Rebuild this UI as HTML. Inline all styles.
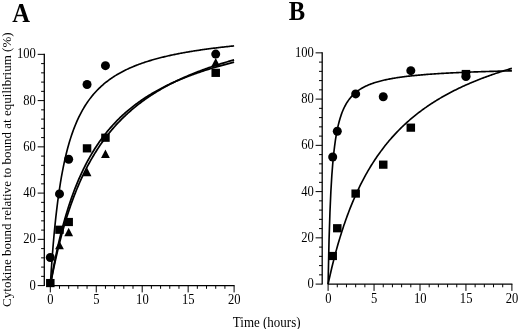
<!DOCTYPE html>
<html><head><meta charset="utf-8"><title>Figure</title>
<style>
html,body{margin:0;padding:0;background:#fff;}
svg{display:block;}
text{font-family:"Liberation Serif","Times New Roman",serif;fill:#000;}
.t{font-size:14px;}
.b{font-size:27px;font-weight:bold;}
.xl{font-size:14.2px;}
.yl{font-size:13px;}
</style></head><body>
<svg width="520" height="329" viewBox="0 0 520 329">
<rect width="520" height="329" fill="#fff"/>
<path d="M44.30 53.85V286.10" stroke="#000" stroke-width="1.3" fill="none"/>
<path d="M37.70 285.60H44.30M41.10 276.35H44.30M41.10 267.10H44.30M41.10 257.85H44.30M41.10 248.60H44.30M37.70 239.35H44.30M41.10 230.10H44.30M41.10 220.85H44.30M41.10 211.60H44.30M41.10 202.35H44.30M37.70 193.10H44.30M41.10 183.85H44.30M41.10 174.60H44.30M41.10 165.35H44.30M41.10 156.10H44.30M37.70 146.85H44.30M41.10 137.60H44.30M41.10 128.35H44.30M41.10 119.10H44.30M41.10 109.85H44.30M37.70 100.60H44.30M41.10 91.35H44.30M41.10 82.10H44.30M41.10 72.85H44.30M41.10 63.60H44.30M37.70 54.35H44.30" stroke="#000" stroke-width="1" fill="none"/>
<text transform="translate(35.90 289.50) scale(0.9 1)" text-anchor="end" class="t">0</text>
<text transform="translate(35.90 243.25) scale(0.9 1)" text-anchor="end" class="t">20</text>
<text transform="translate(35.90 197.00) scale(0.9 1)" text-anchor="end" class="t">40</text>
<text transform="translate(35.90 150.75) scale(0.9 1)" text-anchor="end" class="t">60</text>
<text transform="translate(35.90 104.50) scale(0.9 1)" text-anchor="end" class="t">80</text>
<text transform="translate(35.90 58.25) scale(0.9 1)" text-anchor="end" class="t">100</text>
<path d="M49.80 285.60H234.60" stroke="#000" stroke-width="1.3" fill="none"/>
<path d="M50.30 285.60V292.40M59.49 285.60V288.80M68.68 285.60V288.80M77.87 285.60V288.80M87.06 285.60V288.80M96.25 285.60V292.40M105.44 285.60V288.80M114.63 285.60V288.80M123.82 285.60V288.80M133.01 285.60V288.80M142.20 285.60V292.40M151.39 285.60V288.80M160.58 285.60V288.80M169.77 285.60V288.80M178.96 285.60V288.80M188.15 285.60V292.40M197.34 285.60V288.80M206.53 285.60V288.80M215.72 285.60V288.80M224.91 285.60V288.80M234.10 285.60V292.40" stroke="#000" stroke-width="1" fill="none"/>
<text transform="translate(50.50 304.40) scale(0.9 1)" text-anchor="middle" class="t">0</text>
<text transform="translate(96.45 304.40) scale(0.9 1)" text-anchor="middle" class="t">5</text>
<text transform="translate(142.40 304.40) scale(0.9 1)" text-anchor="middle" class="t">10</text>
<text transform="translate(188.35 304.40) scale(0.9 1)" text-anchor="middle" class="t">15</text>
<text transform="translate(234.30 304.40) scale(0.9 1)" text-anchor="middle" class="t">20</text>
<polyline points="50.30,285.60 51.22,270.98 52.15,257.91 53.07,246.17 53.99,235.55 54.92,225.92 55.84,217.12 56.77,209.07 57.69,201.67 58.61,194.84 59.54,188.52 60.46,182.66 61.38,177.20 62.31,172.12 63.23,167.36 64.15,162.90 65.08,158.71 66.00,154.77 66.93,151.06 67.85,147.55 68.77,144.24 69.70,141.10 70.62,138.13 71.54,135.30 72.47,132.61 73.39,130.05 74.31,127.61 75.24,125.28 76.16,123.06 77.08,120.93 78.01,118.89 78.93,116.94 79.86,115.07 80.78,113.27 81.70,111.55 82.63,109.89 83.55,108.29 84.47,106.76 85.40,105.28 86.32,103.85 87.24,102.47 88.17,101.14 89.09,99.86 90.02,98.62 90.94,97.42 91.86,96.26 92.79,95.13 93.71,94.04 94.63,92.99 95.56,91.97 96.48,90.97 97.40,90.01 98.33,89.07 99.25,88.17 100.18,87.28 101.10,86.42 102.02,85.59 102.95,84.78 103.87,83.99 104.79,83.22 105.72,82.47 106.64,81.74 107.56,81.03 108.49,80.33 109.41,79.66 110.34,79.00 111.26,78.35 112.18,77.72 113.11,77.11 114.03,76.51 114.95,75.92 115.88,75.35 116.80,74.79 117.72,74.24 118.65,73.71 119.57,73.19 120.49,72.67 121.42,72.17 122.34,71.68 123.27,71.20 124.19,70.73 125.11,70.27 126.04,69.82 126.96,69.38 127.88,68.94 128.81,68.52 129.73,68.10 130.65,67.69 131.58,67.29 132.50,66.90 133.43,66.51 134.35,66.13 135.27,65.76 136.20,65.39 137.12,65.04 138.04,64.68 138.97,64.34 139.89,64.00 140.81,63.66 141.74,63.34 142.66,63.01 143.59,62.70 144.51,62.39 145.43,62.08 146.36,61.78 147.28,61.48 148.20,61.19 149.13,60.90 150.05,60.62 150.97,60.34 151.90,60.07 152.82,59.80 153.75,59.53 154.67,59.27 155.59,59.02 156.52,58.76 157.44,58.51 158.36,58.27 159.29,58.03 160.21,57.79 161.13,57.55 162.06,57.32 162.98,57.09 163.91,56.87 164.83,56.65 165.75,56.43 166.68,56.21 167.60,56.00 168.52,55.79 169.45,55.59 170.37,55.38 171.29,55.18 172.22,54.98 173.14,54.79 174.06,54.59 174.99,54.40 175.91,54.22 176.84,54.03 177.76,53.85 178.68,53.67 179.61,53.49 180.53,53.31 181.45,53.14 182.38,52.97 183.30,52.80 184.22,52.63 185.15,52.46 186.07,52.30 187.00,52.14 187.92,51.98 188.84,51.82 189.77,51.66 190.69,51.51 191.61,51.36 192.54,51.21 193.46,51.06 194.38,50.91 195.31,50.77 196.23,50.62 197.16,50.48 198.08,50.34 199.00,50.20 199.93,50.06 200.85,49.93 201.77,49.79 202.70,49.66 203.62,49.53 204.54,49.40 205.47,49.27 206.39,49.15 207.32,49.02 208.24,48.90 209.16,48.77 210.09,48.65 211.01,48.53 211.93,48.41 212.86,48.29 213.78,48.18 214.70,48.06 215.63,47.95 216.55,47.83 217.47,47.72 218.40,47.61 219.32,47.50 220.25,47.39 221.17,47.28 222.09,47.18 223.02,47.07 223.94,46.97 224.86,46.86 225.79,46.76 226.71,46.66 227.63,46.56 228.56,46.46 229.48,46.36 230.41,46.26 231.33,46.17 232.25,46.07 233.18,45.98 234.10,45.88" stroke="#000" stroke-width="1.65" fill="none" stroke-linejoin="round"/>
<polyline points="50.30,285.60 51.22,280.15 52.15,274.91 53.07,269.87 53.99,265.01 54.92,260.32 55.84,255.80 56.77,251.44 57.69,247.23 58.61,243.17 59.54,239.23 60.46,235.43 61.38,231.74 62.31,228.17 63.23,224.72 64.15,221.37 65.08,218.12 66.00,214.96 66.93,211.90 67.85,208.93 68.77,206.04 69.70,203.23 70.62,200.50 71.54,197.85 72.47,195.26 73.39,192.75 74.31,190.30 75.24,187.91 76.16,185.59 77.08,183.32 78.01,181.11 78.93,178.95 79.86,176.85 80.78,174.80 81.70,172.79 82.63,170.83 83.55,168.92 84.47,167.05 85.40,165.23 86.32,163.44 87.24,161.69 88.17,159.99 89.09,158.32 90.02,156.68 90.94,155.08 91.86,153.51 92.79,151.98 93.71,150.48 94.63,149.00 95.56,147.56 96.48,146.15 97.40,144.76 98.33,143.40 99.25,142.07 100.18,140.76 101.10,139.48 102.02,138.22 102.95,136.99 103.87,135.78 104.79,134.59 105.72,133.42 106.64,132.27 107.56,131.14 108.49,130.04 109.41,128.95 110.34,127.88 111.26,126.83 112.18,125.80 113.11,124.78 114.03,123.79 114.95,122.80 115.88,121.84 116.80,120.89 117.72,119.96 118.65,119.04 119.57,118.13 120.49,117.24 121.42,116.37 122.34,115.50 123.27,114.65 124.19,113.82 125.11,112.99 126.04,112.18 126.96,111.39 127.88,110.60 128.81,109.82 129.73,109.06 130.65,108.31 131.58,107.56 132.50,106.83 133.43,106.11 134.35,105.40 135.27,104.70 136.20,104.01 137.12,103.33 138.04,102.66 138.97,101.99 139.89,101.34 140.81,100.70 141.74,100.06 142.66,99.43 143.59,98.81 144.51,98.20 145.43,97.60 146.36,97.00 147.28,96.41 148.20,95.83 149.13,95.26 150.05,94.69 150.97,94.14 151.90,93.58 152.82,93.04 153.75,92.50 154.67,91.97 155.59,91.44 156.52,90.93 157.44,90.41 158.36,89.91 159.29,89.41 160.21,88.91 161.13,88.42 162.06,87.94 162.98,87.46 163.91,86.99 164.83,86.52 165.75,86.06 166.68,85.61 167.60,85.16 168.52,84.71 169.45,84.27 170.37,83.83 171.29,83.40 172.22,82.98 173.14,82.55 174.06,82.14 174.99,81.72 175.91,81.32 176.84,80.91 177.76,80.51 178.68,80.12 179.61,79.73 180.53,79.34 181.45,78.96 182.38,78.58 183.30,78.20 184.22,77.83 185.15,77.46 186.07,77.10 187.00,76.74 187.92,76.38 188.84,76.03 189.77,75.68 190.69,75.33 191.61,74.99 192.54,74.65 193.46,74.32 194.38,73.98 195.31,73.65 196.23,73.33 197.16,73.00 198.08,72.68 199.00,72.37 199.93,72.05 200.85,71.74 201.77,71.43 202.70,71.13 203.62,70.83 204.54,70.53 205.47,70.23 206.39,69.93 207.32,69.64 208.24,69.35 209.16,69.07 210.09,68.78 211.01,68.50 211.93,68.22 212.86,67.95 213.78,67.67 214.70,67.40 215.63,67.13 216.55,66.86 217.47,66.60 218.40,66.34 219.32,66.08 220.25,65.82 221.17,65.56 222.09,65.31 223.02,65.06 223.94,64.81 224.86,64.56 225.79,64.32 226.71,64.07 227.63,63.83 228.56,63.59 229.48,63.36 230.41,63.12 231.33,62.89 232.25,62.66 233.18,62.43 234.10,62.20" stroke="#000" stroke-width="1.75" fill="none" stroke-linejoin="round"/>
<polyline points="50.30,285.60 51.22,280.66 52.15,275.89 53.07,271.28 53.99,266.81 54.92,262.49 55.84,258.30 56.77,254.24 57.69,250.30 58.61,246.48 59.54,242.77 60.46,239.17 61.38,235.67 62.31,232.27 63.23,228.97 64.15,225.75 65.08,222.62 66.00,219.58 66.93,216.61 67.85,213.73 68.77,210.91 69.70,208.17 70.62,205.50 71.54,202.89 72.47,200.34 73.39,197.86 74.31,195.43 75.24,193.07 76.16,190.75 77.08,188.49 78.01,186.29 78.93,184.13 79.86,182.02 80.78,179.95 81.70,177.93 82.63,175.96 83.55,174.02 84.47,172.13 85.40,170.28 86.32,168.46 87.24,166.68 88.17,164.94 89.09,163.23 90.02,161.56 90.94,159.92 91.86,158.31 92.79,156.73 93.71,155.18 94.63,153.66 95.56,152.17 96.48,150.71 97.40,149.27 98.33,147.86 99.25,146.47 100.18,145.11 101.10,143.78 102.02,142.46 102.95,141.17 103.87,139.91 104.79,138.66 105.72,137.43 106.64,136.23 107.56,135.05 108.49,133.88 109.41,132.74 110.34,131.61 111.26,130.50 112.18,129.41 113.11,128.33 114.03,127.28 114.95,126.24 115.88,125.21 116.80,124.20 117.72,123.21 118.65,122.23 119.57,121.27 120.49,120.32 121.42,119.38 122.34,118.46 123.27,117.55 124.19,116.66 125.11,115.78 126.04,114.91 126.96,114.05 127.88,113.21 128.81,112.37 129.73,111.55 130.65,110.74 131.58,109.94 132.50,109.15 133.43,108.38 134.35,107.61 135.27,106.85 136.20,106.10 137.12,105.37 138.04,104.64 138.97,103.92 139.89,103.21 140.81,102.51 141.74,101.82 142.66,101.14 143.59,100.47 144.51,99.80 145.43,99.15 146.36,98.50 147.28,97.86 148.20,97.22 149.13,96.60 150.05,95.98 150.97,95.37 151.90,94.77 152.82,94.17 153.75,93.58 154.67,93.00 155.59,92.42 156.52,91.85 157.44,91.29 158.36,90.74 159.29,90.19 160.21,89.64 161.13,89.11 162.06,88.58 162.98,88.05 163.91,87.53 164.83,87.02 165.75,86.51 166.68,86.01 167.60,85.51 168.52,85.02 169.45,84.53 170.37,84.05 171.29,83.57 172.22,83.10 173.14,82.64 174.06,82.18 174.99,81.72 175.91,81.27 176.84,80.82 177.76,80.38 178.68,79.94 179.61,79.50 180.53,79.07 181.45,78.65 182.38,78.23 183.30,77.81 184.22,77.40 185.15,76.99 186.07,76.59 187.00,76.18 187.92,75.79 188.84,75.39 189.77,75.01 190.69,74.62 191.61,74.24 192.54,73.86 193.46,73.48 194.38,73.11 195.31,72.75 196.23,72.38 197.16,72.02 198.08,71.66 199.00,71.31 199.93,70.96 200.85,70.61 201.77,70.26 202.70,69.92 203.62,69.58 204.54,69.25 205.47,68.91 206.39,68.58 207.32,68.26 208.24,67.93 209.16,67.61 210.09,67.29 211.01,66.98 211.93,66.66 212.86,66.35 213.78,66.05 214.70,65.74 215.63,65.44 216.55,65.14 217.47,64.84 218.40,64.55 219.32,64.25 220.25,63.96 221.17,63.67 222.09,63.39 223.02,63.11 223.94,62.83 224.86,62.55 225.79,62.27 226.71,62.00 227.63,61.72 228.56,61.45 229.48,61.19 230.41,60.92 231.33,60.66 232.25,60.40 233.18,60.14 234.10,59.88" stroke="#000" stroke-width="1.75" fill="none" stroke-linejoin="round"/>
<circle cx="50.30" cy="257.50" r="4.5"/>
<circle cx="59.49" cy="193.91" r="4.5"/>
<circle cx="68.68" cy="159.22" r="4.5"/>
<circle cx="87.06" cy="84.53" r="4.5"/>
<circle cx="105.44" cy="65.68" r="4.5"/>
<circle cx="215.72" cy="54.12" r="4.5"/>
<rect x="46.05" y="278.96" width="8.5" height="8.2"/>
<rect x="55.24" y="225.65" width="8.5" height="8.2"/>
<rect x="64.43" y="217.91" width="8.5" height="8.2"/>
<rect x="82.81" y="144.25" width="8.5" height="8.2"/>
<rect x="101.19" y="133.62" width="8.5" height="8.2"/>
<rect x="211.47" y="68.75" width="8.5" height="8.2"/>
<path d="M59.49 240.93L63.89 249.33H55.09Z"/>
<path d="M68.68 227.75L73.08 236.15H64.28Z"/>
<path d="M87.06 167.86L91.46 176.26H82.66Z"/>
<path d="M105.44 149.59L109.84 157.99H101.04Z"/>
<path d="M215.72 58.01L220.12 66.41H211.32Z"/>
<path d="M322.20 52.35V284.60" stroke="#000" stroke-width="1.3" fill="none"/>
<path d="M315.60 284.10H322.20M319.00 274.85H322.20M319.00 265.60H322.20M319.00 256.35H322.20M319.00 247.10H322.20M315.60 237.85H322.20M319.00 228.60H322.20M319.00 219.35H322.20M319.00 210.10H322.20M319.00 200.85H322.20M315.60 191.60H322.20M319.00 182.35H322.20M319.00 173.10H322.20M319.00 163.85H322.20M319.00 154.60H322.20M315.60 145.35H322.20M319.00 136.10H322.20M319.00 126.85H322.20M319.00 117.60H322.20M319.00 108.35H322.20M315.60 99.10H322.20M319.00 89.85H322.20M319.00 80.60H322.20M319.00 71.35H322.20M319.00 62.10H322.20M315.60 52.85H322.20" stroke="#000" stroke-width="1" fill="none"/>
<text transform="translate(313.80 288.00) scale(0.9 1)" text-anchor="end" class="t">0</text>
<text transform="translate(313.80 241.75) scale(0.9 1)" text-anchor="end" class="t">20</text>
<text transform="translate(313.80 195.50) scale(0.9 1)" text-anchor="end" class="t">40</text>
<text transform="translate(313.80 149.25) scale(0.9 1)" text-anchor="end" class="t">60</text>
<text transform="translate(313.80 103.00) scale(0.9 1)" text-anchor="end" class="t">80</text>
<text transform="translate(313.80 56.75) scale(0.9 1)" text-anchor="end" class="t">100</text>
<path d="M327.60 284.10H512.40" stroke="#000" stroke-width="1.3" fill="none"/>
<path d="M328.10 284.10V290.90M337.29 284.10V287.30M346.48 284.10V287.30M355.67 284.10V287.30M364.86 284.10V287.30M374.05 284.10V290.90M383.24 284.10V287.30M392.43 284.10V287.30M401.62 284.10V287.30M410.81 284.10V287.30M420.00 284.10V290.90M429.19 284.10V287.30M438.38 284.10V287.30M447.57 284.10V287.30M456.76 284.10V287.30M465.95 284.10V290.90M475.14 284.10V287.30M484.33 284.10V287.30M493.52 284.10V287.30M502.71 284.10V287.30M511.90 284.10V290.90" stroke="#000" stroke-width="1" fill="none"/>
<text transform="translate(328.30 302.90) scale(0.9 1)" text-anchor="middle" class="t">0</text>
<text transform="translate(374.25 302.90) scale(0.9 1)" text-anchor="middle" class="t">5</text>
<text transform="translate(420.20 302.90) scale(0.9 1)" text-anchor="middle" class="t">10</text>
<text transform="translate(466.15 302.90) scale(0.9 1)" text-anchor="middle" class="t">15</text>
<text transform="translate(512.10 302.90) scale(0.9 1)" text-anchor="middle" class="t">20</text>
<polyline points="328.10,284.10 329.02,241.06 329.95,212.24 330.87,191.58 331.79,176.05 332.72,163.96 333.64,154.26 334.57,146.33 335.49,139.70 336.41,134.10 337.34,129.29 338.26,125.12 339.18,121.47 340.11,118.24 341.03,115.38 341.95,112.81 342.88,110.50 343.80,108.41 344.73,106.51 345.65,104.78 346.57,103.18 347.50,101.72 348.42,100.37 349.34,99.12 350.27,97.95 351.19,96.87 352.11,95.86 353.04,94.91 353.96,94.03 354.88,93.19 355.81,92.41 356.73,91.67 357.66,90.97 358.58,90.31 359.50,89.69 360.43,89.09 361.35,88.53 362.27,87.99 363.20,87.48 364.12,86.99 365.04,86.53 365.97,86.08 366.89,85.66 367.82,85.25 368.74,84.86 369.66,84.49 370.59,84.13 371.51,83.78 372.43,83.45 373.36,83.13 374.28,82.82 375.20,82.53 376.13,82.24 377.05,81.96 377.98,81.70 378.90,81.44 379.82,81.19 380.75,80.95 381.67,80.72 382.59,80.49 383.52,80.27 384.44,80.06 385.36,79.86 386.29,79.66 387.21,79.46 388.14,79.28 389.06,79.09 389.98,78.92 390.91,78.74 391.83,78.58 392.75,78.41 393.68,78.25 394.60,78.10 395.52,77.95 396.45,77.80 397.37,77.66 398.29,77.52 399.22,77.38 400.14,77.25 401.07,77.12 401.99,76.99 402.91,76.87 403.84,76.75 404.76,76.63 405.68,76.52 406.61,76.40 407.53,76.29 408.45,76.19 409.38,76.08 410.30,75.98 411.23,75.88 412.15,75.78 413.07,75.68 414.00,75.59 414.92,75.49 415.84,75.40 416.77,75.32 417.69,75.23 418.61,75.14 419.54,75.06 420.46,74.98 421.39,74.90 422.31,74.82 423.23,74.74 424.16,74.66 425.08,74.59 426.00,74.51 426.93,74.44 427.85,74.37 428.77,74.30 429.70,74.23 430.62,74.17 431.55,74.10 432.47,74.03 433.39,73.97 434.32,73.91 435.24,73.85 436.16,73.78 437.09,73.73 438.01,73.67 438.93,73.61 439.86,73.55 440.78,73.50 441.71,73.44 442.63,73.39 443.55,73.33 444.48,73.28 445.40,73.23 446.32,73.18 447.25,73.13 448.17,73.08 449.09,73.03 450.02,72.98 450.94,72.93 451.86,72.89 452.79,72.84 453.71,72.80 454.64,72.75 455.56,72.71 456.48,72.66 457.41,72.62 458.33,72.58 459.25,72.54 460.18,72.50 461.10,72.46 462.02,72.42 462.95,72.38 463.87,72.34 464.80,72.30 465.72,72.26 466.64,72.22 467.57,72.19 468.49,72.15 469.41,72.11 470.34,72.08 471.26,72.04 472.18,72.01 473.11,71.97 474.03,71.94 474.96,71.91 475.88,71.87 476.80,71.84 477.73,71.81 478.65,71.78 479.57,71.75 480.50,71.71 481.42,71.68 482.34,71.65 483.27,71.62 484.19,71.59 485.12,71.56 486.04,71.54 486.96,71.51 487.89,71.48 488.81,71.45 489.73,71.42 490.66,71.40 491.58,71.37 492.50,71.34 493.43,71.32 494.35,71.29 495.27,71.26 496.20,71.24 497.12,71.21 498.05,71.19 498.97,71.16 499.89,71.14 500.82,71.11 501.74,71.09 502.66,71.07 503.59,71.04 504.51,71.02 505.43,71.00 506.36,70.97 507.28,70.95 508.21,70.93 509.13,70.91 510.05,70.88 510.98,70.86 511.90,70.84" stroke="#000" stroke-width="1.65" fill="none" stroke-linejoin="round"/>
<polyline points="328.10,284.10 329.02,279.85 329.95,275.72 330.87,271.71 331.79,267.81 332.72,264.02 333.64,260.34 334.57,256.75 335.49,253.26 336.41,249.87 337.34,246.56 338.26,243.33 339.18,240.19 340.11,237.13 341.03,234.14 341.95,231.23 342.88,228.39 343.80,225.61 344.73,222.90 345.65,220.26 346.57,217.67 347.50,215.14 348.42,212.67 349.34,210.26 350.27,207.90 351.19,205.59 352.11,203.33 353.04,201.12 353.96,198.95 354.88,196.83 355.81,194.75 356.73,192.72 357.66,190.73 358.58,188.78 359.50,186.86 360.43,184.99 361.35,183.15 362.27,181.34 363.20,179.57 364.12,177.84 365.04,176.13 365.97,174.46 366.89,172.82 367.82,171.21 368.74,169.63 369.66,168.07 370.59,166.54 371.51,165.05 372.43,163.57 373.36,162.12 374.28,160.70 375.20,159.30 376.13,157.93 377.05,156.57 377.98,155.24 378.90,153.94 379.82,152.65 380.75,151.38 381.67,150.14 382.59,148.91 383.52,147.70 384.44,146.52 385.36,145.35 386.29,144.19 387.21,143.06 388.14,141.94 389.06,140.84 389.98,139.76 390.91,138.69 391.83,137.64 392.75,136.61 393.68,135.59 394.60,134.58 395.52,133.59 396.45,132.61 397.37,131.65 398.29,130.70 399.22,129.76 400.14,128.83 401.07,127.92 401.99,127.02 402.91,126.14 403.84,125.26 404.76,124.40 405.68,123.55 406.61,122.70 407.53,121.88 408.45,121.06 409.38,120.25 410.30,119.45 411.23,118.66 412.15,117.88 413.07,117.12 414.00,116.36 414.92,115.61 415.84,114.87 416.77,114.14 417.69,113.42 418.61,112.70 419.54,112.00 420.46,111.30 421.39,110.62 422.31,109.94 423.23,109.27 424.16,108.60 425.08,107.95 426.00,107.30 426.93,106.66 427.85,106.02 428.77,105.40 429.70,104.78 430.62,104.17 431.55,103.56 432.47,102.96 433.39,102.37 434.32,101.78 435.24,101.21 436.16,100.63 437.09,100.07 438.01,99.51 438.93,98.95 439.86,98.40 440.78,97.86 441.71,97.32 442.63,96.79 443.55,96.27 444.48,95.75 445.40,95.23 446.32,94.72 447.25,94.22 448.17,93.72 449.09,93.22 450.02,92.73 450.94,92.25 451.86,91.77 452.79,91.29 453.71,90.82 454.64,90.36 455.56,89.90 456.48,89.44 457.41,88.99 458.33,88.54 459.25,88.10 460.18,87.66 461.10,87.22 462.02,86.79 462.95,86.37 463.87,85.94 464.80,85.52 465.72,85.11 466.64,84.70 467.57,84.29 468.49,83.89 469.41,83.49 470.34,83.09 471.26,82.70 472.18,82.31 473.11,81.92 474.03,81.54 474.96,81.16 475.88,80.78 476.80,80.41 477.73,80.04 478.65,79.68 479.57,79.31 480.50,78.95 481.42,78.60 482.34,78.24 483.27,77.89 484.19,77.55 485.12,77.20 486.04,76.86 486.96,76.52 487.89,76.18 488.81,75.85 489.73,75.52 490.66,75.19 491.58,74.87 492.50,74.55 493.43,74.23 494.35,73.91 495.27,73.59 496.20,73.28 497.12,72.97 498.05,72.66 498.97,72.36 499.89,72.06 500.82,71.76 501.74,71.46 502.66,71.17 503.59,70.87 504.51,70.58 505.43,70.29 506.36,70.01 507.28,69.72 508.21,69.44 509.13,69.16 510.05,68.88 510.98,68.61 511.90,68.34" stroke="#000" stroke-width="1.65" fill="none" stroke-linejoin="round"/>
<circle cx="332.70" cy="157.03" r="4.5"/>
<circle cx="337.29" cy="131.24" r="4.5"/>
<circle cx="355.67" cy="93.90" r="4.5"/>
<circle cx="383.24" cy="96.79" r="4.5"/>
<circle cx="410.81" cy="70.66" r="4.5"/>
<circle cx="465.95" cy="76.55" r="4.5"/>
<rect x="328.45" y="251.90" width="8.5" height="8.2"/>
<rect x="333.04" y="224.15" width="8.5" height="8.2"/>
<rect x="351.42" y="189.47" width="8.5" height="8.2"/>
<rect x="378.99" y="160.56" width="8.5" height="8.2"/>
<rect x="406.56" y="123.56" width="8.5" height="8.2"/>
<rect x="461.70" y="69.91" width="8.5" height="8.2"/>
<text transform="translate(21.2 21.5) scale(0.91 1)" text-anchor="middle" class="b">A</text>
<text transform="translate(296.9 19.5) scale(0.91 1)" text-anchor="middle" class="b">B</text>
<text transform="translate(266.7 326.5) scale(0.915 1)" text-anchor="middle" class="xl">Time (hours)</text>
<text transform="translate(11.1 169.7) rotate(-90) scale(1 0.95)" text-anchor="middle" textLength="274.5" lengthAdjust="spacing" class="yl">Cytokine bound relative to bound at equilibrium (%)</text>
</svg>
</body></html>
